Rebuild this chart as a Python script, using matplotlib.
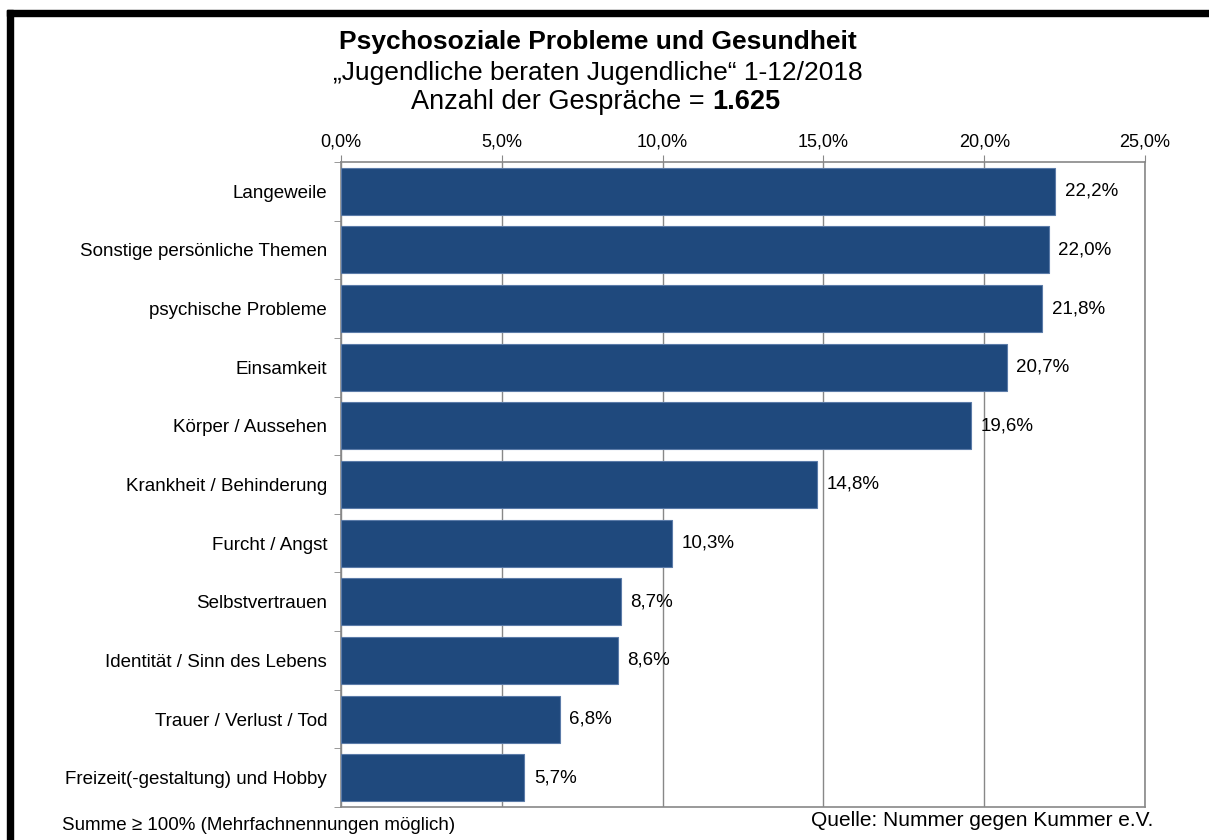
import matplotlib.pyplot as plt
from matplotlib.patches import Rectangle

plt.rcParams['font.family'] = ['Liberation Sans', 'DejaVu Sans']

themen = ['Langeweile', 'Sonstige persönliche Themen', 'psychische Probleme',
          'Einsamkeit', 'Körper / Aussehen', 'Krankheit / Behinderung',
          'Furcht / Angst', 'Selbstvertrauen', 'Identität / Sinn des Lebens',
          'Trauer / Verlust / Tod', 'Freizeit(-gestaltung) und Hobby']
anteile = [22.2, 22.0, 21.8, 20.7, 19.6, 14.8, 10.3, 8.7, 8.6, 6.8, 5.7]
ticks = [0, 5, 10, 15, 20, 25]

W, H = 1209, 840
fig = plt.figure(figsize=(W / 100, H / 100), dpi=100)

# Rahmen
fig.patches.append(Rectangle((7 / W, 0), 6 / W, (H - 10) / H, transform=fig.transFigure,
                             color='black', zorder=0))
fig.patches.append(Rectangle((7 / W, (H - 16) / H), (W - 7) / W, 6 / H,
                             transform=fig.transFigure, color='black', zorder=0))

x0, x1, y0, y1 = 341, 1145, 162, 807
ax = fig.add_axes([x0 / W, 1 - y1 / H, (x1 - x0) / W, (y1 - y0) / H])

pos = list(range(len(themen)))
ax.barh(pos, anteile, height=0.8, color='#1F497D', edgecolor='#5B7BA8', linewidth=0.8, zorder=3)
for p, v in zip(pos, anteile):
    ax.text(v + 0.3, p, f'{v:.1f}%'.replace('.', ','), va='center', ha='left', fontsize=13.5)

ax.set_xlim(0, 25)
ax.set_ylim(len(themen) - 0.5, -0.5)
ax.set_xticks(ticks)
ax.set_xticklabels([f'{t:.1f}%'.replace('.', ',') for t in ticks], fontsize=13)
ax.xaxis.tick_top()
ax.tick_params(axis='x', direction='out', length=5, color='#888888', pad=3)
ax.grid(axis='x', color='#888888', linewidth=1, zorder=0)

ax.set_yticks(pos)
ax.set_yticklabels(themen, fontsize=13.5)
ax.set_yticks([p + 0.5 for p in [-1] + pos], minor=True)
ax.tick_params(axis='y', which='major', length=0, pad=10)
ax.tick_params(axis='y', which='minor', direction='out', length=5, color='#888888')
for s in ax.spines.values():
    s.set_color('#888888')
    s.set_linewidth(1.2)

fig.text(598 / W, 1 - 42 / H, 'Psychosoziale Probleme und Gesundheit', ha='center',
         va='center', fontsize=19, fontweight='bold')
fig.text(598 / W, 1 - 73 / H, '„Jugendliche beraten Jugendliche“ 1-12/2018', ha='center',
         va='center', fontsize=19)
fig.text(705 / W, 1 - 102 / H, 'Anzahl der Gespräche =', ha='right',
         va='center', fontsize=19.5)
fig.text(712 / W, 1 - 102 / H, '1.625', ha='left',
         va='center', fontsize=19.5, fontweight='bold')

fig.text(62 / W, 1 - 826 / H, 'Summe ≥ 100% (Mehrfachnennungen möglich)', ha='left',
         va='center', fontsize=13.5)
fig.text(1153 / W, 1 - 821 / H, 'Quelle: Nummer gegen Kummer e.V.', ha='right',
         va='center', fontsize=15)

fig.savefig('out.png', dpi=100)
